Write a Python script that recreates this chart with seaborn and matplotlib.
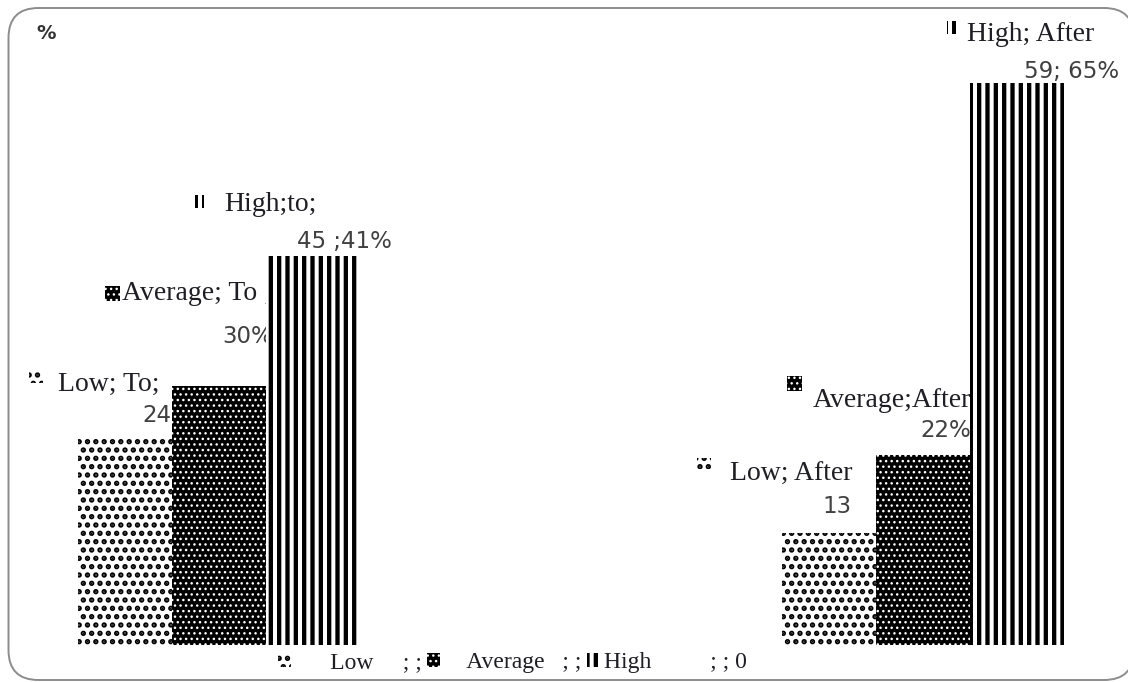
import numpy as np
import pandas as pd
import matplotlib
matplotlib.use("Agg")
import matplotlib.pyplot as plt
from matplotlib.patches import FancyBboxPatch, Rectangle, Patch
from matplotlib.offsetbox import AnnotationBbox, DrawingArea
import seaborn as sns

# ---- data -------------------------------------------------------------
periods = ["To", "After"]
levels = ["Low", "Average", "High"]
low_values = [24, 13]
average_values = [30, 22]
high_values = [45, 65]

label_heads = {
    "Low": ["Low; To;", "Low; After"],
    "Average": ["Average; To ;", "Average;After"],
    "High": ["High;to;", "High; After"],
}
label_tails = {
    "Low": ["24", "13"],
    "Average": ["30%", "22%"],
    "High": ["45 ;41%", "59; 65%"],
}
legend_labels = ["      Low     ; ;", "    Average   ; ;", "High          ; ; 0"]

df = pd.DataFrame({
    "period": periods * 3,
    "level": [lv for lv in levels for _ in periods],
    "value": low_values + average_values + high_values,
})

# ---- styling ----------------------------------------------------------
W, H, DPI = 1128, 682, 100
SERIF = "Liberation Serif"
SANS = "DejaVu Sans"
HEAD_COLOR = "#1e1e24"
TAIL_COLOR = "#404040"

styles = {
    "Low": dict(facecolor="white", edgecolor="black", hatch="..", hlw=2.6),
    "Average": dict(facecolor="black", edgecolor="white", hatch="...", hlw=1.0),
    "High": dict(facecolor="white", edgecolor="black", hatch="||", hlw=3.1),
}


def apply_style(patch, st):
    patch.set_facecolor(st["facecolor"])
    patch.set_edgecolor(st["edgecolor"])
    patch.set_hatch(st["hatch"])
    patch.set_linewidth(0)
    if hasattr(patch, "set_hatch_linewidth"):
        patch.set_hatch_linewidth(st["hlw"])
    else:
        patch._hatch_linewidth = st["hlw"]


sns.set_theme(style="white")
plt.rcParams["font.family"] = [SANS]

fig = plt.figure(figsize=(W / DPI, H / DPI), dpi=DPI)
fig.patch.set_facecolor("white")

# rounded outer frame, drawn in a pixel-coordinate background axes
bg = fig.add_axes([0, 0, 1, 1], zorder=-1)
bg.set_xlim(0, W)
bg.set_ylim(H, 0)
bg.axis("off")
bg.add_patch(FancyBboxPatch((8.5, 8), 1134 - 8.5, 680 - 8,
                            boxstyle="round,pad=0,rounding_size=30",
                            facecolor="white", edgecolor="#8c8c8c", lw=1.4))

# plotting area
left_px, right_px, top_px, base_px = 60, 1080, 20, 645
ax = fig.add_axes([left_px / W, (H - base_px) / H,
                   (right_px - left_px) / W, (base_px - top_px) / H])
ax.patch.set_alpha(0)

sns.barplot(data=df, x="period", y="value", hue="level", order=periods,
            hue_order=levels, width=0.4, gap=0, saturation=1,
            errorbar=None, legend=False, ax=ax, zorder=3)

px_per_group = 704.0
ax.set_xlim(-(219 - left_px) / px_per_group, 1 + (right_px - 923) / px_per_group)
ax.set_ylim(0, (base_px - top_px) / 8.646)
ax.axis("off")

for level, container in zip(levels, ax.containers):
    for bar in container:
        apply_style(bar, styles[level])

# data labels: offsets in pixels from each bar's top centre
layout = {
    ("Low", 0): dict(head=(34.5, 47), tail=(46.5, 15), icon=(-89.5, 60), isz=(14, 11)),
    ("Average", 0): dict(head=(53, 86), tail=(54, 43), icon=(-107, 92), isz=(15, 15)),
    ("High", 0): dict(head=(4, 45), tail=(79, 8), icon=(-113, 54), isz=(9, 13)),
    ("Low", 1): dict(head=(23, 52), tail=(22, 20), icon=(-125, 69), isz=(14, 11)),
    ("Average", 1): dict(head=(48, 48), tail=(48, 18), icon=(-129, 71), isz=(15, 15)),
    ("High", 1): dict(head=(77, 42), tail=(102, 5), icon=(-65, 56), isz=(9, 13)),
}

for level, container in zip(levels, ax.containers):
    for i, bar in enumerate(container):
        xc = bar.get_x() + bar.get_width() / 2
        yt = bar.get_height()
        lay = layout[(level, i)]
        ax.annotate(label_heads[level][i], xy=(xc, yt), xytext=lay["head"],
                    textcoords="offset pixels", ha="right", va="baseline",
                    fontsize=20, family=SERIF, color=HEAD_COLOR, zorder=2,
                    annotation_clip=False)
        ax.annotate(label_tails[level][i], xy=(xc, yt), xytext=lay["tail"],
                    textcoords="offset pixels", ha="right", va="baseline",
                    fontsize=16.5, family=SANS, color=TAIL_COLOR, zorder=2,
                    annotation_clip=False)
        iw, ih = lay["isz"]
        da = DrawingArea(iw * 0.72, ih * 0.72, 0, 0)
        key = Rectangle((0, 0), iw * 0.72, ih * 0.72)
        apply_style(key, styles[level])
        da.add_artist(key)
        ab = AnnotationBbox(da, (xc, yt), xybox=lay["icon"],
                            boxcoords="offset pixels", frameon=False, pad=0,
                            box_alignment=(0.5, 0.5), zorder=2,
                            annotation_clip=False)
        ax.add_artist(ab)

# unit marker
fig.text(36 / W, 1 - 24 / H, "%", ha="left", va="top", fontsize=14,
         fontweight="bold", family=SANS, color="#333333")

# legend along the bottom edge
handles = []
for level in levels:
    p = Patch()
    apply_style(p, styles[level])
    handles.append(p)
leg = ax.legend(handles, legend_labels, ncol=3, loc="lower left",
                bbox_to_anchor=(278 / W, (H - 673) / H),
                bbox_transform=fig.transFigure, frameon=False,
                handlelength=0.55, handleheight=0.55, handletextpad=0.15,
                columnspacing=0.25, borderpad=0, borderaxespad=0,
                prop={"family": SERIF, "size": 17})
for t in leg.get_texts():
    t.set_color(HEAD_COLOR)
for lh, level in zip(leg.legend_handles, levels):
    apply_style(lh, styles[level])

fig.savefig("out.png", dpi=DPI, facecolor="white")
